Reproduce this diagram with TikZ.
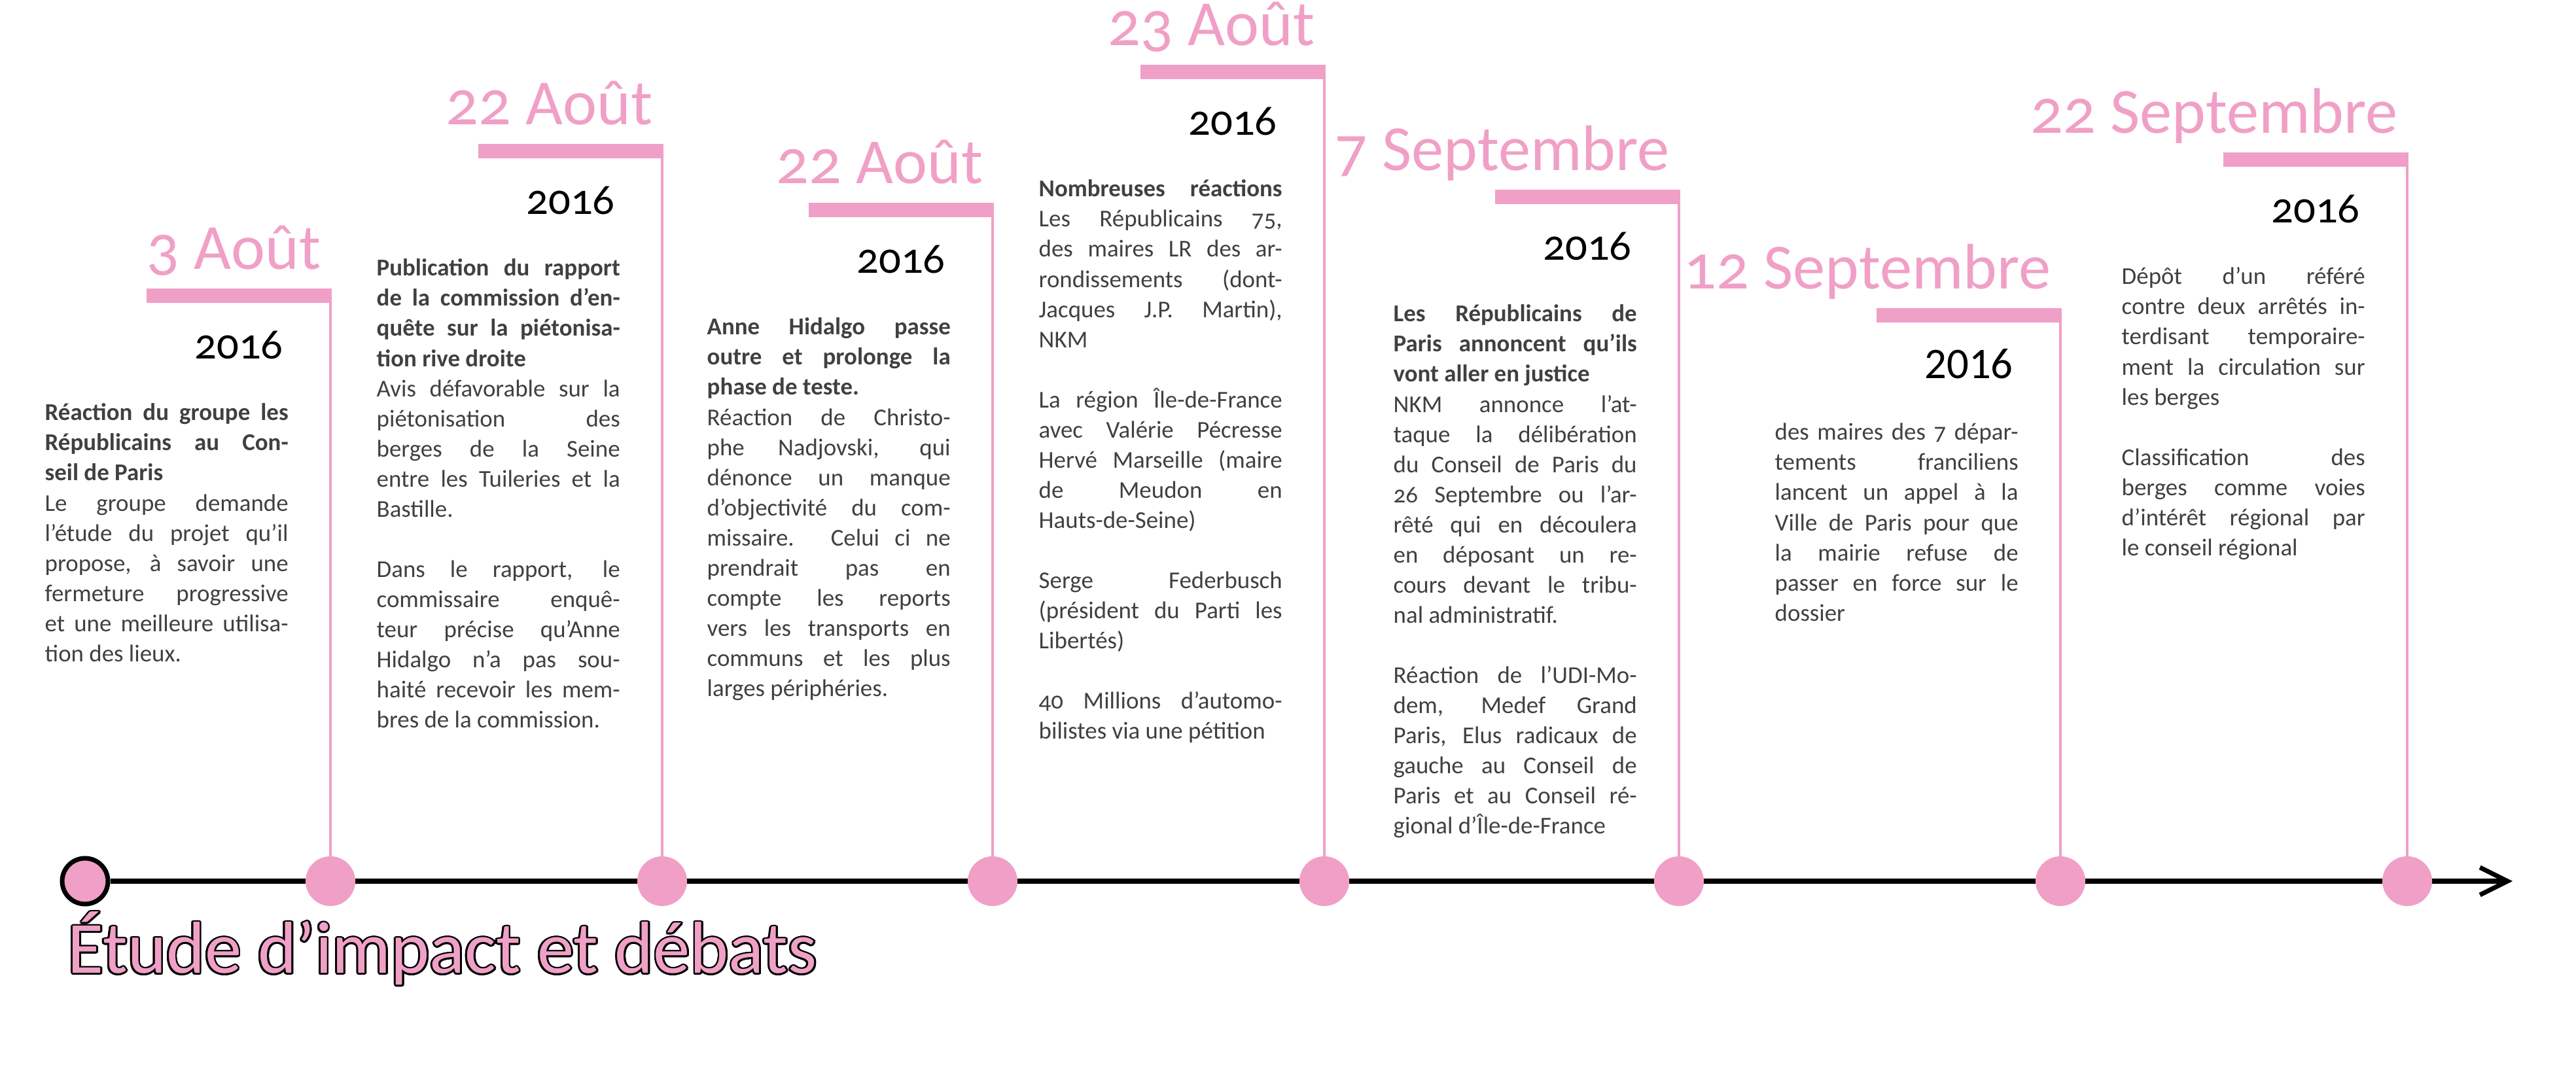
\documentclass[tikz,border=0pt]{standalone}
\usepackage{fontspec}
\setmainfont{Carlito}[Numbers=OldStyle]
\usepackage{contour}
\contourlength{0.8pt}
\usetikzlibrary{arrows.meta,backgrounds}
\definecolor{tlpink}{RGB}{240,160,198}
\definecolor{txtgray}{RGB}{64,64,64}
\tolerance=10000
\hyphenpenalty=10000
\exhyphenpenalty=10000
\tikzset{
  datelbl/.style={anchor=base east, inner sep=0pt, text=tlpink,
    font=\fontsize{28}{30}\selectfont},
  yearlbl/.style={anchor=base, inner sep=0pt, text=black,
    font=\fontsize{19}{21}\selectfont},
  evtxt/.style={anchor=north west, inner sep=0pt, text width=3.72cm,
    align=justify, text=txtgray, font=\fontsize{10.5}{13.1}\selectfont},
  datebar/.style={anchor=center, fill=tlpink, inner sep=0pt,
    minimum width=2.83cm, minimum height=2.2mm},
  dot/.style={circle, fill=tlpink, inner sep=0pt, minimum size=7.6mm},
  startdot/.style={dot, draw=black, line width=2pt, minimum size=7mm},
  stem/.style={draw=tlpink, line width=1pt},
  tlaxis/.style={draw=black, line width=2pt,
    -{Straight Barb[length=4.2mm,width=4.2mm]}},
  headline/.style={anchor=base west, inner sep=0pt, text=tlpink,
    font=\fontsize{32}{34}\selectfont}
}

\begin{document}
\begin{tikzpicture}
  \useasboundingbox (0,0) rectangle (39.37,16.54);

  % Dots on the time axis.
  \node[startdot] (dot0) at (1.30,3.07) {};
  \node[dot] (dot1) at (5.05,3.07) {};
  \node[dot] (dot2) at (10.12,3.07) {};
  \node[dot] (dot3) at (15.17,3.07) {};
  \node[dot] (dot4) at (20.24,3.07) {};
  \node[dot] (dot5) at (25.66,3.07) {};
  \node[dot] (dot6) at (31.49,3.07) {};
  \node[dot] (dot7) at (36.79,3.07) {};
  \coordinate (tip) at (38.40,3.07);

  % 3 Août
  \node[datebar] (bar1) at (3.65,12.02) {};
  \node[datelbl] (date1) at (4.91,12.42) {3 Août};
  \node[yearlbl] (year1) at (3.65,11.05) {2016};
  \node[evtxt] (txt1) at (0.68,10.44) {\strut{\bfseries Réaction du groupe les\linebreak
    Républicains au Con-\linebreak seil de Paris}\\
    Le groupe demande\linebreak l’étude du projet qu’il\linebreak
    propose, à savoir une\linebreak fermeture progressive\linebreak
    et une meilleure utilisa-\linebreak tion des lieux.};

  % 22 Août, the report
  \node[datebar] (bar2) at (8.72,14.23) {};
  \node[datelbl] (date2) at (9.98,14.63) {22 Août};
  \node[yearlbl] (year2) at (8.72,13.26) {2016};
  \node[evtxt] (txt2) at (5.75,12.65) {\strut{\bfseries Publication du rapport\linebreak
    de la commission d’en-\linebreak quête sur la piétonisa-\linebreak
    tion rive droite}\\
    Avis défavorable sur la\linebreak piétonisation des\linebreak
    berges de la Seine\linebreak entre les Tuileries et la\linebreak
    Bastille.\\[13.1pt]
    Dans le rapport, le\linebreak commissaire enquê-\linebreak
    teur précise qu'Anne\linebreak Hidalgo n'a pas sou-\linebreak
    haité recevoir les mem-\linebreak bres de la commission.};

  % 22 Août, the test phase
  \node[datebar] (bar3) at (13.77,13.33) {};
  \node[datelbl] (date3) at (15.03,13.73) {22 Août};
  \node[yearlbl] (year3) at (13.77,12.36) {2016};
  \node[evtxt] (txt3) at (10.80,11.75) {\strut{\bfseries Anne Hidalgo passe\linebreak
    outre et prolonge la\linebreak phase de teste.}\\
    Réaction de Christo-\linebreak phe Nadjovski, qui\linebreak
    dénonce un manque\linebreak d’objectivité du com-\linebreak
    missaire. Celui ci ne\linebreak prendrait pas en\linebreak
    compte les reports\linebreak vers les transports en\linebreak
    communs et les plus\linebreak larges périphéries.};

  % 23 Août
  \node[datebar] (bar4) at (18.84,15.44) {};
  \node[datelbl] (date4) at (20.10,15.84) {23 Août};
  \node[yearlbl] (year4) at (18.84,14.47) {2016};
  \node[evtxt] (txt4) at (15.87,13.86) {\strut{\bfseries Nombreuses réactions}\linebreak
    Les Républicains 75,\linebreak des maires LR des ar-\linebreak
    rondissements (dont-\linebreak Jacques J.P. Martin),\linebreak
    NKM\\[13.1pt]
    La région Île-de-France\linebreak avec Valérie Pécresse\linebreak
    Hervé Marseille (maire\linebreak de Meudon en\linebreak
    Hauts-de-Seine)\\[13.1pt]
    Serge Federbusch\linebreak (président du Parti les\linebreak
    Libertés)\\[13.1pt]
    40 Millions d’automo-\linebreak bilistes via une pétition};

  % 7 Septembre
  \node[datebar] (bar5) at (24.26,13.53) {};
  \node[datelbl] (date5) at (25.52,13.93) {7 Septembre};
  \node[yearlbl] (year5) at (24.26,12.56) {2016};
  \node[evtxt] (txt5) at (21.29,11.95) {\strut{\bfseries Les Républicains de\linebreak
    Paris annoncent qu’ils\linebreak vont aller en justice}\\
    NKM annonce l’at-\linebreak taque la délibération\linebreak
    du Conseil de Paris du\linebreak 26 Septembre ou l’ar-\linebreak
    rêté qui en découlera\linebreak en déposant un re-\linebreak
    cours devant le tribu-\linebreak nal administratif.\\[13.1pt]
    Réaction de l’UDI-Mo-\linebreak dem, Medef Grand\linebreak
    Paris, Elus radicaux de\linebreak gauche au Conseil de\linebreak
    Paris et au Conseil ré-\linebreak gional d’Île-de-France};

  % 12 Septembre
  \node[datebar] (bar6) at (30.09,11.72) {};
  \node[datelbl] (date6) at (31.35,12.12) {12 Septembre};
  \node[yearlbl] (year6) at (30.09,10.75) {\addfontfeatures{Numbers=Lining}2016};
  \node[evtxt] (txt6) at (27.12,10.14) {\strut des maires des 7 dépar-\linebreak
    tements franciliens\linebreak lancent un appel à la\linebreak
    Ville de Paris pour que\linebreak la mairie refuse de\linebreak
    passer en force sur le\linebreak dossier};

  % 22 Septembre
  \node[datebar] (bar7) at (35.39,14.10) {};
  \node[datelbl] (date7) at (36.65,14.50) {22 Septembre};
  \node[yearlbl] (year7) at (35.39,13.13) {2016};
  \node[evtxt] (txt7) at (32.42,12.52) {\strut Dépôt d’un référé\linebreak
    contre deux arrêtés in-\linebreak terdisant temporaire-\linebreak
    ment la circulation sur\linebreak les berges\\[13.1pt]
    Classification des\linebreak berges comme voies\linebreak
    d’intérêt régional par\linebreak le conseil régional};

  % Axis and stems go under the dots.
  \begin{scope}[on background layer]
    \draw[tlaxis] (dot0.east) -- (tip);
    \draw[stem] (bar1.east -| dot1.center) -- (dot1.center);
    \draw[stem] (bar2.east -| dot2.center) -- (dot2.center);
    \draw[stem] (bar3.east -| dot3.center) -- (dot3.center);
    \draw[stem] (bar4.east -| dot4.center) -- (dot4.center);
    \draw[stem] (bar5.east -| dot5.center) -- (dot5.center);
    \draw[stem] (bar6.east -| dot6.center) -- (dot6.center);
    \draw[stem] (bar7.east -| dot7.center) -- (dot7.center);
  \end{scope}

  \node[headline] (heading) at (1.03,1.66)
    {\contour{black}{Étude d’impact et débats}};
\end{tikzpicture}
\end{document}
